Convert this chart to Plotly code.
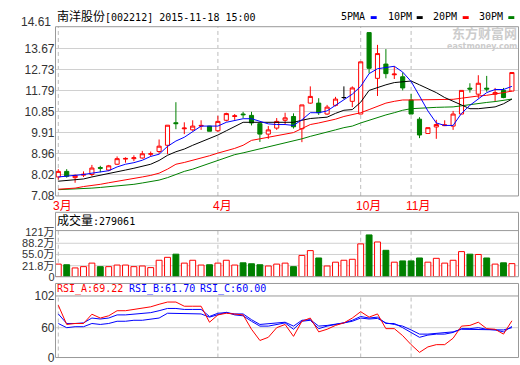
import plotly.graph_objects as go

W, H = 520, 365

# ---------------- data ----------------
month_labels = ["3月", "4月", "10月", "11月"]
month_start = [0, 19, 36, 42]

open_ = [7.91, 8.16, 7.88, 7.99, 8.02, 8.33, 8.22, 8.48, 8.71, 8.73, 8.76, 8.93, 9.05, 9.33, 10.34,
         10.07, 10.02, 10.19, 10.19, 9.98, 10.45, 10.62, 10.73, 10.67, 10.30, 9.83, 10.10, 10.45,
         10.62, 10.07, 11.22, 11.22, 10.73, 11.12, 11.47, 11.30, 10.73, 14.38, 12.33, 12.97, 12.49,
         12.40, 11.36, 10.50, 9.86, 10.15, 10.21, 10.19, 10.73, 11.89, 11.62, 11.89, 11.62, 11.79, 11.76]
close = [8.16, 7.94, 7.98, 8.03, 8.31, 8.30, 8.41, 8.73, 8.74, 8.77, 8.95, 8.95, 9.29, 10.23, 10.30,
         10.10, 10.19, 10.22, 9.96, 10.40, 10.75, 10.65, 10.70, 10.33, 9.83, 10.02, 10.40, 10.56,
         10.16, 11.14, 11.52, 10.79, 11.04, 11.40, 11.47, 11.90, 13.07, 12.78, 13.44, 12.54, 12.52,
         11.90, 10.73, 9.79, 10.12, 10.26, 10.24, 10.73, 11.79, 11.85, 12.11, 11.85, 11.69, 11.47, 12.59]
high = [8.26, 8.26, 8.02, 8.16, 8.45, 8.41, 8.45, 8.83, 8.79, 8.88, 9.08, 9.05, 9.59, 10.23, 11.26,
        10.36, 10.45, 10.45, 10.20, 10.65, 10.79, 10.73, 10.83, 10.83, 10.30, 10.19, 10.55, 10.79,
        10.76, 11.14, 11.97, 11.44, 11.14, 11.50, 11.97, 11.97, 13.07, 14.38, 13.83, 13.64, 12.87,
        12.59, 11.64, 10.59, 10.12, 10.47, 10.45, 10.87, 11.79, 12.11, 12.47, 12.44, 11.90, 11.90, 12.59]
low = [7.79, 7.88, 7.65, 7.91, 7.94, 8.12, 8.17, 8.45, 8.55, 8.62, 8.73, 8.83, 8.95, 8.93, 10.05,
       9.83, 9.98, 10.02, 9.96, 9.93, 10.40, 10.47, 10.55, 10.22, 9.48, 9.62, 10.02, 10.26,
       10.08, 9.47, 11.19, 10.69, 10.69, 11.07, 11.40, 11.04, 10.73, 12.55, 11.54, 12.33, 12.30,
       11.79, 10.73, 9.65, 9.86, 9.62, 10.19, 10.02, 10.73, 11.69, 11.44, 11.73, 11.30, 11.44, 11.76]

ma5 = [7.91, 7.94, 7.98, 8.02, 8.08, 8.12, 8.19, 8.36, 8.48, 8.55, 8.66, 8.83, 8.93, 9.28, 9.52,
       9.69, 9.93, 10.19, 10.19, 10.19, 10.36, 10.43, 10.52, 10.52, 10.40, 10.29, 10.26, 10.26,
       10.22, 10.47, 10.79, 10.79, 10.87, 11.12, 11.35, 11.62, 11.97, 12.54, 12.76, 12.83, 12.87,
       12.61, 12.19, 11.54, 10.87, 10.33, 10.22, 10.22, 10.76, 11.12, 11.40, 11.69, 11.83, 11.83, 11.97]
ma10 = [7.72, 7.75, 7.79, 7.82, 7.91, 7.98, 8.05, 8.12, 8.22, 8.30, 8.38, 8.48, 8.65, 8.88, 9.04,
        9.16, 9.33, 9.48, 9.62, 9.79, 9.98, 10.16, 10.36, 10.36, 10.36, 10.33, 10.33, 10.36,
        10.36, 10.45, 10.53, 10.56, 10.59, 10.76, 10.90, 10.93, 11.26, 11.79, 11.93, 12.04, 12.14,
        12.19, 12.21, 12.04, 11.87, 11.69, 11.47, 11.30, 11.12, 10.97, 10.97, 11.02, 11.05, 11.19, 11.40]
ma20 = [7.36, 7.39, 7.41, 7.48, 7.52, 7.58, 7.65, 7.71, 7.77, 7.82, 7.91, 7.98, 8.08, 8.26, 8.48,
        8.56, 8.65, 8.76, 8.86, 8.98, 9.08, 9.19, 9.33, 9.55, 9.62, 9.69, 9.76, 9.82,
        9.90, 10.08, 10.26, 10.33, 10.40, 10.50, 10.62, 10.69, 10.79, 10.93, 11.07, 11.22, 11.30,
        11.36, 11.36, 11.36, 11.36, 11.36, 11.36, 11.39, 11.44, 11.50, 11.54, 11.57, 11.62, 11.69, 11.76]
ma30 = [7.34, 7.35, 7.37, 7.40, 7.41, 7.44, 7.47, 7.49, 7.54, 7.58, 7.64, 7.69, 7.77, 7.88, 8.02,
        8.16, 8.26, 8.39, 8.51, 8.65, 8.76, 8.91, 8.99, 9.08, 9.16, 9.25, 9.33, 9.42,
        9.50, 9.62, 9.73, 9.82, 9.90, 10.02, 10.12, 10.19, 10.33, 10.45, 10.59, 10.69, 10.79,
        10.90, 10.97, 11.00, 11.02, 11.03, 11.04, 11.05, 11.10, 11.16, 11.22, 11.25, 11.29, 11.33, 11.40]

# volume in 万 (10k lots)
volume = [26.5, 24.6, 15.2, 19.0, 29.4, 19.0, 19.0, 23.7, 23.7, 19.0, 20.9, 16.1, 37.9, 46.5, 55.9,
          29.4, 37.9, 23.7, 24.6, 29.4, 37.9, 23.7, 30.3, 27.5, 24.6, 20.9, 26.5, 29.4,
          19.0, 52.2, 66.4, 44.6, 20.9, 32.2, 37.9, 40.8, 86.3, 112.9, 92.0, 67.3, 32.2,
          36.0, 36.0, 44.6, 32.2, 43.6, 29.4, 37.9, 63.5, 55.9, 55.0, 44.6, 26.5, 30.3, 27.9]
volume_header_value = 279061

rsi_a = [90.0, 64.3, 65.6, 65.6, 78.0, 72.9, 75.9, 82.7, 82.7, 84.4, 87.0, 87.9, 91.3, 94.3, 94.3,
         88.7, 88.7, 88.7, 67.3, 77.1, 79.3, 78.0, 77.1, 57.9, 42.9, 47.1, 60.0, 64.3,
         48.4, 68.6, 72.9, 54.4, 57.9, 63.0, 66.4, 72.9, 81.4, 74.1, 78.4, 58.7, 58.7,
         49.3, 37.3, 27.0, 34.3, 37.3, 37.3, 45.9, 62.1, 63.0, 67.3, 58.7, 57.9, 51.4, 69.22]
rsi_b = [78.4, 65.6, 65.6, 66.4, 72.9, 71.6, 72.9, 77.1, 77.1, 78.4, 79.3, 80.1, 82.7, 85.7, 85.7,
         84.4, 84.4, 84.4, 75.0, 79.3, 80.1, 78.4, 78.4, 70.7, 64.3, 65.6, 66.4, 67.3,
         62.1, 69.9, 70.7, 62.1, 63.0, 64.3, 66.4, 69.9, 75.0, 72.9, 74.1, 65.6, 65.6,
         60.0, 53.6, 47.1, 50.1, 51.4, 51.4, 53.6, 58.7, 58.7, 60.0, 57.9, 57.0, 54.4, 61.70]
rsi_c = [65.6, 60.0, 61.3, 61.3, 65.6, 64.3, 65.6, 68.6, 68.6, 69.9, 69.9, 71.6, 72.9, 79.3, 79.3,
         78.4, 78.4, 78.4, 74.1, 77.1, 80.6, 77.1, 75.9, 68.6, 62.1, 62.1, 64.3, 66.4,
         57.9, 68.6, 69.9, 58.7, 62.1, 64.3, 65.6, 68.6, 72.9, 71.6, 72.4, 66.4, 64.3,
         62.1, 57.0, 51.4, 51.4, 52.7, 53.6, 54.4, 57.9, 57.9, 57.9, 57.9, 57.9, 57.0, 60.00]

price_ticks = [7.08, 8.02, 8.96, 9.91, 10.85, 11.79, 12.73, 13.67]
price_top_label = 14.61
vol_tick_vals = [-10.9, 21.8, 55.0, 88.2, 121.0]
vol_tick_text = ["0", "21.8万", "55.0万", "88.2万", "121万"]
rsi_tick_vals = [20.1, 60, 102.4]
rsi_tick_text = ["0", "60", "102"]

title_code = "[002212] 2015-11-18 15:00"
title_name = "南洋股份"
ma_names = ["5PMA", "10PM", "20PM", "30PM"]

# ---------------- styles ----------------
RED, GREEN, BLUE, BLACK = "#ff0000", "#008000", "#0000ff", "#000000"
FRAME = "#999999"
GRID = "#d0d0d0"
DASH = "#bdbdbd"
MONO = "DejaVu Sans Mono, Noto Sans CJK SC"
SANS = "Liberation Sans, Noto Sans CJK SC"


def ppy(py):
    return 1 - py / H


def ppx(px):
    return px / W


n = len(close)
x = list(range(n))
XR = [-0.333, 54.786]
XDOM = [ppx(55.5), ppx(518.5)]

fig = go.Figure()

normal = [i for i in x if open_[i] != close[i]]
doji = [i for i in x if open_[i] == close[i]]

fig.add_trace(go.Candlestick(
    x=[x[i] for i in normal], open=[open_[i] for i in normal], high=[high[i] for i in normal],
    low=[low[i] for i in normal], close=[close[i] for i in normal],
    increasing=dict(line=dict(color=RED, width=1), fillcolor="#ffffff"),
    decreasing=dict(line=dict(color=GREEN, width=1), fillcolor=GREEN),
    whiskerwidth=0, xaxis="x", yaxis="y", hoverinfo="skip", showlegend=False))
if doji:
    fig.add_trace(go.Candlestick(
        x=[x[i] for i in doji], open=[open_[i] for i in doji], high=[high[i] for i in doji],
        low=[low[i] for i in doji], close=[close[i] for i in doji],
        increasing=dict(line=dict(color=BLACK, width=1), fillcolor=BLACK),
        decreasing=dict(line=dict(color=BLACK, width=1), fillcolor=BLACK),
        whiskerwidth=0, xaxis="x", yaxis="y", hoverinfo="skip", showlegend=False))

for ys, col in [(ma30, GREEN), (ma20, RED), (ma10, BLACK), (ma5, BLUE)]:
    fig.add_trace(go.Scatter(x=x, y=ys, mode="lines", line=dict(color=col, width=1),
                             xaxis="x", yaxis="y", hoverinfo="skip", showlegend=False))

VOL_MIN, VOL_MAX = -10.9, 125.7
up = [close[i] >= open_[i] for i in x]
fig.add_trace(go.Bar(
    x=x, y=[v - VOL_MIN for v in volume], base=VOL_MIN, width=0.7,
    marker=dict(color=["#ffffff" if u else GREEN for u in up],
                line=dict(color=[RED if u else GREEN for u in up], width=1)),
    xaxis="x2", yaxis="y2", hoverinfo="skip", showlegend=False))

for ys, col in [(rsi_c, BLUE), (rsi_b, BLUE), (rsi_a, RED)]:
    fig.add_trace(go.Scatter(x=x, y=ys, mode="lines", line=dict(color=col, width=1),
                             xaxis="x3", yaxis="y3", hoverinfo="skip", showlegend=False))

xcommon = dict(domain=XDOM, range=XR, showticklabels=False, showgrid=False, zeroline=False,
               showline=False, ticks="", fixedrange=True)
tickfont = dict(family=SANS, size=12, color="#333333")
ycommon = dict(zeroline=False, showline=False, ticks="", fixedrange=True,
               tickmode="array")

shapes = []
# frames
for top, sep, bot in [(20.5, None, 196.5), (213.5, 232.5, 280.5), (287.5, 300.5, 364.5)]:
    shapes.append(dict(type="rect", xref="paper", yref="paper", x0=ppx(55.5), x1=ppx(518.5),
                       y0=ppy(bot), y1=ppy(top), line=dict(color=FRAME, width=1), layer="above"))
    if sep is not None:
        shapes.append(dict(type="line", xref="paper", yref="paper", x0=ppx(55.5), x1=ppx(518.5),
                           y0=ppy(sep), y1=ppy(sep), line=dict(color=FRAME, width=1), layer="above"))
# inner grids for volume and rsi
for v in vol_tick_vals[1:4]:
    shapes.append(dict(type="line", xref="x2 domain", yref="y2", x0=0, x1=1, y0=v, y1=v,
                       line=dict(color=GRID, width=1), layer="below"))
shapes.append(dict(type="line", xref="x3 domain", yref="y3", x0=0, x1=1, y0=60, y1=60,
                   line=dict(color=GRID, width=1), layer="below"))
# month dividers
for m in month_start:
    for xa, ya in [("x", "y"), ("x2", "y2"), ("x3", "y3")]:
        shapes.append(dict(type="line", xref=xa, yref=ya + " domain", x0=m, x1=m, y0=0, y1=1,
                           line=dict(color=DASH, width=1, dash="4px,3px"), layer="below"))
# legend swatches
for x0, col in [(370.7, BLUE), (416.7, BLACK), (462.7, RED), (508.3, GREEN)]:
    shapes.append(dict(type="rect", xref="paper", yref="paper", x0=ppx(x0), x1=ppx(x0 + 6),
                       y0=ppy(12.5), y1=ppy(9.5), fillcolor=col, line=dict(width=0)))

ann = []


def text(px, py, s, color="#000000", size=10, family=MONO, xanchor="left", **kw):
    ann.append(dict(xref="paper", yref="paper", x=ppx(px), y=ppy(py), text=s, showarrow=False,
                    xanchor=xanchor, yanchor="middle", font=dict(family=family, size=size, color=color),
                    borderpad=0, **kw))


text(56, 10, '<span style="font-size:12px">%s</span>%s' % (title_name, title_code))
for xp, nm in zip([339.5, 386.5, 432, 477.5], ma_names):
    text(xp, 10, nm)
text(518, 26.5, "<b>东方财富网</b>", color="#cccccc", size=13, family="Noto Sans CJK SC", xanchor="right")
text(518, 41.5, "<b>eastmoney.com</b>", color="#cccccc", size=8, family="DejaVu Sans", xanchor="right")
text(52, 16, "%.2f" % price_top_label, color="#333333", size=12, family=SANS, xanchor="right")
text(56, 222.5, '<span style="font-size:12px">成交量</span>:%d' % volume_header_value)
for xp, nm, vals, col in [(56, "RSI_A", rsi_a, RED), (127.5, "RSI_B", rsi_b, BLUE), (199, "RSI_C", rsi_c, BLUE)]:
    text(xp, 293.5, "%s:%.2f" % (nm, vals[-1]), color=col)
for m, lab in zip(month_start, month_labels):
    ann.append(dict(xref="x", yref="paper", x=m, y=ppy(206.5), text=lab, showarrow=False,
                    xanchor="left", yanchor="middle", xshift=-6,
                    font=dict(family=SANS, size=12, color=RED), borderpad=0))

fig.update_layout(
    width=W, height=H, autosize=False, margin=dict(l=0, r=0, t=0, b=0, pad=0),
    paper_bgcolor="#ffffff", plot_bgcolor="#ffffff", showlegend=False,
    xaxis=dict(**xcommon, anchor="y", rangeslider=dict(visible=False)),
    xaxis2=dict(**xcommon, anchor="y2"),
    xaxis3=dict(**xcommon, anchor="y3"),
    yaxis=dict(**ycommon, tickfont=tickfont, domain=[ppy(196.5), ppy(20.5)], range=[7.0585, 14.644],
               tickvals=price_ticks, ticktext=["%.2f" % v for v in price_ticks],
               showgrid=True, gridcolor=GRID, gridwidth=1, anchor="x"),
    yaxis2=dict(**ycommon, tickfont=dict(family=SANS, size=11, color="#333333"),
                domain=[ppy(280.5), ppy(232.5)], range=[VOL_MIN, VOL_MAX],
                tickvals=vol_tick_vals, ticktext=vol_tick_text, showgrid=False, anchor="x2"),
    yaxis3=dict(**ycommon, tickfont=tickfont, domain=[ppy(364.5), ppy(300.5)], range=[20.1, 102.4],
                tickvals=rsi_tick_vals, ticktext=rsi_tick_text, showgrid=False, anchor="x3"),
    shapes=shapes, annotations=ann, boxmode="overlay",
)

fig.write_html("out.html")
